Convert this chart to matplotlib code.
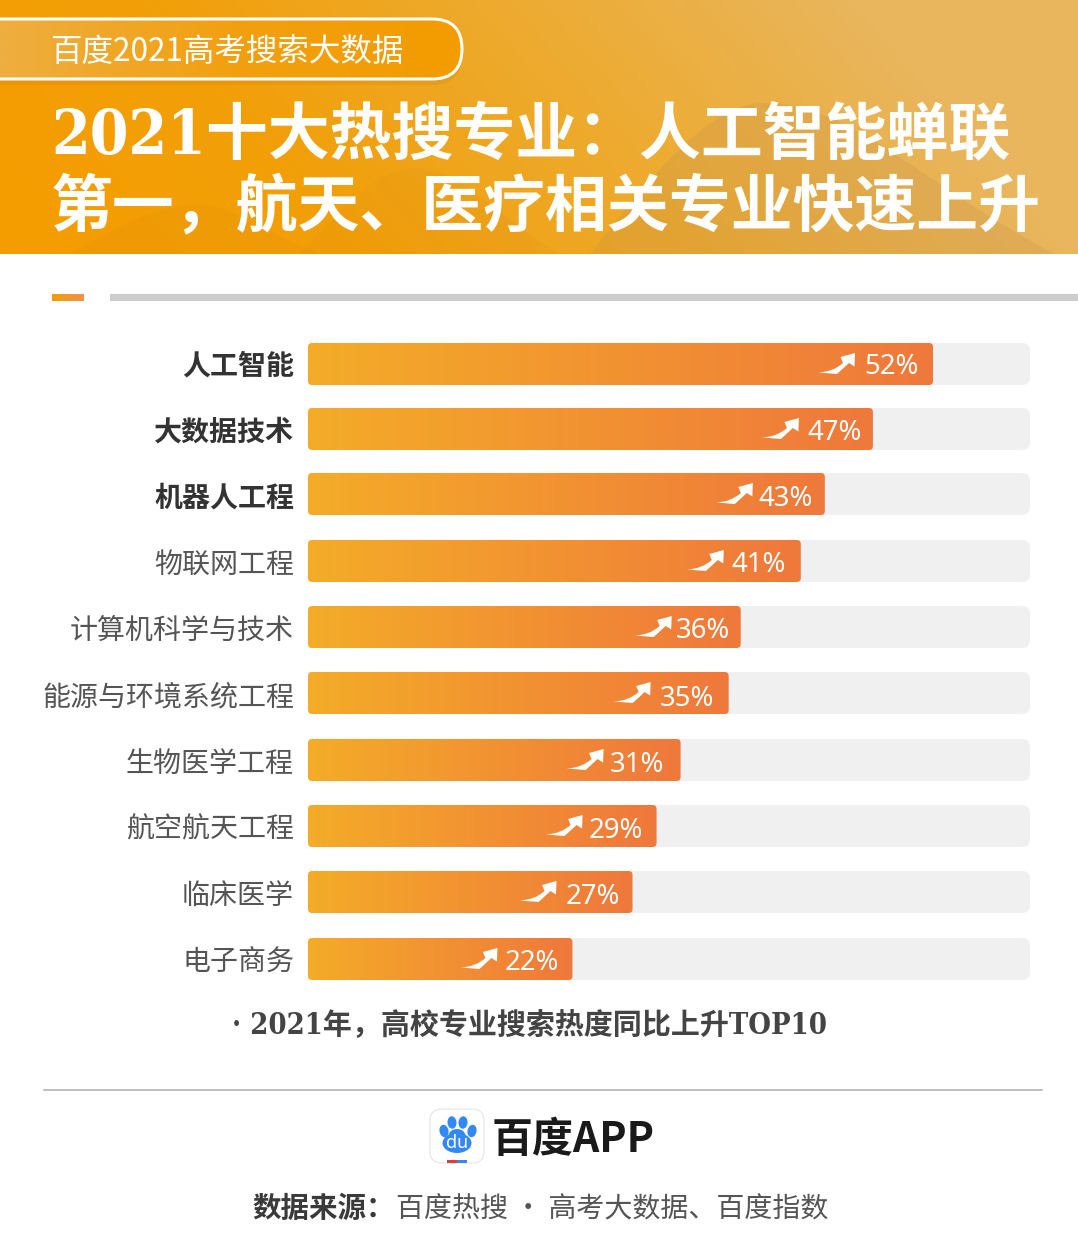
"""Rebuild of the 2021 hot-search majors poster: header band, bars, footer."""

import matplotlib
matplotlib.use("Agg")
import matplotlib.pyplot as plt
import numpy as np
from matplotlib.colors import LinearSegmentedColormap
from matplotlib.patches import Ellipse, FancyBboxPatch, PathPatch, Rectangle
from matplotlib.path import Path
from matplotlib.transforms import Affine2D

# ----- data ---------------------------------------------------------------
majors = ["人工智能", "大数据技术", "机器人工程", "物联网工程", "计算机科学与技术",
          "能源与环境系统工程", "生物医学工程", "航空航天工程", "临床医学", "电子商务"]
growth_pct = [52, 47, 43, 41, 36, 35, 31, 29, 27, 22]
bold_rows = 3

tag_text = "百度2021高考搜索大数据"
title_lines = ["2021十大热搜专业\uff1a人工智能蝉联", "第一\uff0c航天、医疗相关专业快速上升"]
caption = "\u00b7 2021年\uff0c高校专业搜索热度同比上升TOP10"
brand = "百度APP"
source_head = "数据来源\uff1a"
source_body = "百度热搜 · 高考大数据、百度指数"

# ----- layout, in pixels of the 1078x1240 canvas --------------------------
W, H = 1078, 1240
DPI = 100
BAR_LEFT, BAR_RIGHT = 308, 1030
AXIS_MAX = 60.07
row_y = [364, 429, 494, 561, 627, 693, 760, 826, 892, 959]
arrow_gap = [78, 74, 72, 77, 69, 78, 77, 74, 76, 75]
label_gap = [14, 11, 12, 15, 11, 14, 16, 14, 13, 13]
text_shift = [0, 1, 2, 1, 1, 2, 1, 1, 2, 1]
BAR_H = 42

SANS = ["Noto Sans CJK SC", "DejaVu Sans"]
SERIF = ["DejaVu Serif", "Noto Sans CJK SC"]


def px(size):
    return size * 72 / DPI


def gradient(ax, extent, colors, clip=None, angle=0.0, zorder=2):
    """Fill extent with a left-right gradient, optionally clipped to a patch."""
    xx, yy = np.meshgrid(np.linspace(0, 1, 256), np.linspace(0, 1, 64))
    cmap = LinearSegmentedColormap.from_list("g", colors, N=1024)
    z = np.clip(xx + angle * (1 - yy), 0, 1)
    im = ax.imshow(z, extent=extent, cmap=cmap, vmin=0, vmax=1,
                   aspect="auto", origin="upper", zorder=zorder,
                   interpolation="bilinear")
    if clip is not None:
        im.set_clip_path(clip)
    return im


plt.rcParams["font.family"] = SANS
fig = plt.figure(figsize=(W / DPI, H / DPI), dpi=DPI, facecolor="white")

canvas = fig.add_axes([0, 0, 1, 1])
canvas.set_xlim(0, W)
canvas.set_ylim(H, 0)
canvas.axis("off")

# ----- header band --------------------------------------------------------
gradient(canvas, (0, W, 254, 0), ["#f59d00", "#f29f08", "#edab30", "#e9b65e"],
         angle=0.2, zorder=1)
# faint hills behind the title
for left, peak_x, peak_y, right, tone, alpha in [
    (70, 195, 205, 320, "#d98a10", 0.15),
    (300, 415, 168, 560, "#d98a10", 0.12),
    (590, 765, 103, 1055, "#b98a50", 0.20),
]:
    hill = Path(
        [(left, 254), (left + (peak_x - left) * 0.5, 254 - (254 - peak_y) * 0.75),
         (peak_x - (peak_x - left) * 0.25, peak_y), (peak_x, peak_y),
         (peak_x + (right - peak_x) * 0.3, peak_y), (peak_x + (right - peak_x) * 0.55, 254 - (254 - peak_y) * 0.45),
         (right, 254), (left, 254)],
        [Path.MOVETO, Path.CURVE4, Path.CURVE4, Path.CURVE4,
         Path.CURVE4, Path.CURVE4, Path.CURVE4, Path.CLOSEPOLY],
    )
    canvas.add_patch(PathPatch(hill, fc=tone, ec="none", alpha=alpha, zorder=1.5))

shadow = FancyBboxPatch((-40, 23), 502, 62, boxstyle="round,pad=0,rounding_size=30",
                        fc="#c07a00", ec="none", alpha=0.18, zorder=2)
canvas.add_patch(shadow)
pill = FancyBboxPatch((-40, 19), 502, 60, boxstyle="round,pad=0,rounding_size=30",
                      fc="none", ec="white", lw=px(3), zorder=4)
canvas.add_patch(pill)
gradient(canvas, (0, 462, 79, 19), ["#eeae40", "#f2a010", "#f39c00"], clip=pill, zorder=3)
canvas.set_xlim(0, W)
canvas.set_ylim(H, 0)

canvas.text(51, 52, tag_text, color="white", fontsize=px(31.5), va="center", zorder=5)
for line, y in zip(title_lines, [153, 225]):
    canvas.text(51, y, line, color="white", fontsize=px(61.9), fontweight="bold",
                fontstretch="condensed", family=SERIF, va="baseline", zorder=5)

# ----- divider above the bars ---------------------------------------------
gradient(canvas, (52, 84, 301, 294), ["#f59d00", "#f39050"], zorder=2)
canvas.add_patch(Rectangle((110, 294), W - 110, 7, fc="#cccccc", ec="none"))

# ----- bars ---------------------------------------------------------------
ax = fig.add_axes([BAR_LEFT / W, 0, (BAR_RIGHT - BAR_LEFT) / W, 1], zorder=3)
ax.patch.set_alpha(0)
ax.axis("off")

bars = ax.barh(row_y, growth_pct, height=BAR_H, color="none", linewidth=0, zorder=3)
ax.set_xlim(0, AXIS_MAX)
ax.set_ylim(H, 0)
aspect = (BAR_RIGHT - BAR_LEFT) / AXIS_MAX

arrow = Path(
    [(-37, 19.5), (-22, 19), (-12, 10), (-14.5, 4), (0, 0), (-0.5, 13.5),
     (-6, 10), (-6, 10), (-18, 21), (-37, 19.5)],
    [Path.MOVETO, Path.CURVE3, Path.CURVE3, Path.LINETO, Path.LINETO, Path.LINETO,
     Path.LINETO, Path.CURVE3, Path.CURVE3, Path.CLOSEPOLY],
)

for i, (bar, value, name, y) in enumerate(zip(bars, growth_pct, majors, row_y)):
    track = FancyBboxPatch((0, y - BAR_H / 2), AXIS_MAX, BAR_H,
                           boxstyle=f"round,pad=0,rounding_size={8 / aspect}",
                           mutation_aspect=aspect, fc="#f0f0f0", ec="none", zorder=1)
    ax.add_patch(track)
    fill = FancyBboxPatch((0, y - BAR_H / 2), bar.get_width(), BAR_H,
                          boxstyle=f"round,pad=0,rounding_size={4 / aspect}",
                          mutation_aspect=aspect, fc="none", ec="none", zorder=2)
    ax.add_patch(fill)
    gradient(ax, (0, bar.get_width(), y + BAR_H / 2, y - BAR_H / 2),
             ["#f4ac28", "#ef783c"], clip=fill)

    ax.annotate(f"{value}%", (value, y), xytext=(-px(label_gap[i]), -px(text_shift[i])),
                textcoords="offset points", ha="right", va="center_baseline",
                color="white", fontsize=px(27.5),
                family=["Noto Sans", "DejaVu Sans"], zorder=6)

    tip_x = BAR_LEFT + value * aspect - arrow_gap[i]
    ax.add_patch(PathPatch(arrow, fc="white", ec="none", zorder=6,
                           transform=Affine2D().translate(tip_x, y - 11) + canvas.transData))

    canvas.text(294, y + 3 + text_shift[i], name, ha="right", va="center", fontsize=px(28),
                color="#333333" if i < bold_rows else "#555555",
                fontweight="bold" if i < bold_rows else "light")

canvas.text(232, 1033.5, caption, color="#444444", fontsize=px(29), fontweight="bold",
            fontstretch="condensed", family=SERIF, va="baseline")

# ----- footer -------------------------------------------------------------
canvas.plot([44, 1042], [1090, 1090], color="#aaaaaa", lw=px(1.5))

canvas.add_patch(FancyBboxPatch((430, 1109), 54, 54, boxstyle="round,pad=0,rounding_size=12",
                                fc="white", ec="#e2e2e2", lw=px(1)))
paw = "#3388f5"
for cx, cy, rot in [(444, 1131, -12), (452, 1122.5, -5), (463, 1122.5, 5), (472, 1131, 12)]:
    canvas.add_patch(Ellipse((cx, cy), 9, 12.5, angle=rot, fc=paw, ec="none"))
canvas.add_patch(Ellipse((457, 1143), 29, 20, fc=paw, ec="none"))
canvas.add_patch(Ellipse((457, 1136), 17, 14, fc=paw, ec="none"))
canvas.text(457, 1143, "du", color="white", fontsize=px(18), fontweight="bold",
            ha="center", va="center", family=["Noto Sans", "DejaVu Sans"], zorder=5)
canvas.add_patch(Rectangle((447, 1160), 10, 3, fc="#e23b3b", ec="none"))
canvas.add_patch(Rectangle((457, 1160), 10, 3, fc="#3a86ef", ec="none"))

canvas.text(492, 1140, brand, color="#1a1a1a", fontsize=px(41), fontweight="bold", va="center")
canvas.text(252, 1209, source_head, color="#3a3a3a", fontsize=px(28.5), fontweight="bold", va="center")
canvas.text(396, 1209, source_body, color="#555555", fontsize=px(28), fontweight="light", va="center")

fig.savefig("out.png", dpi=DPI, facecolor="white")
